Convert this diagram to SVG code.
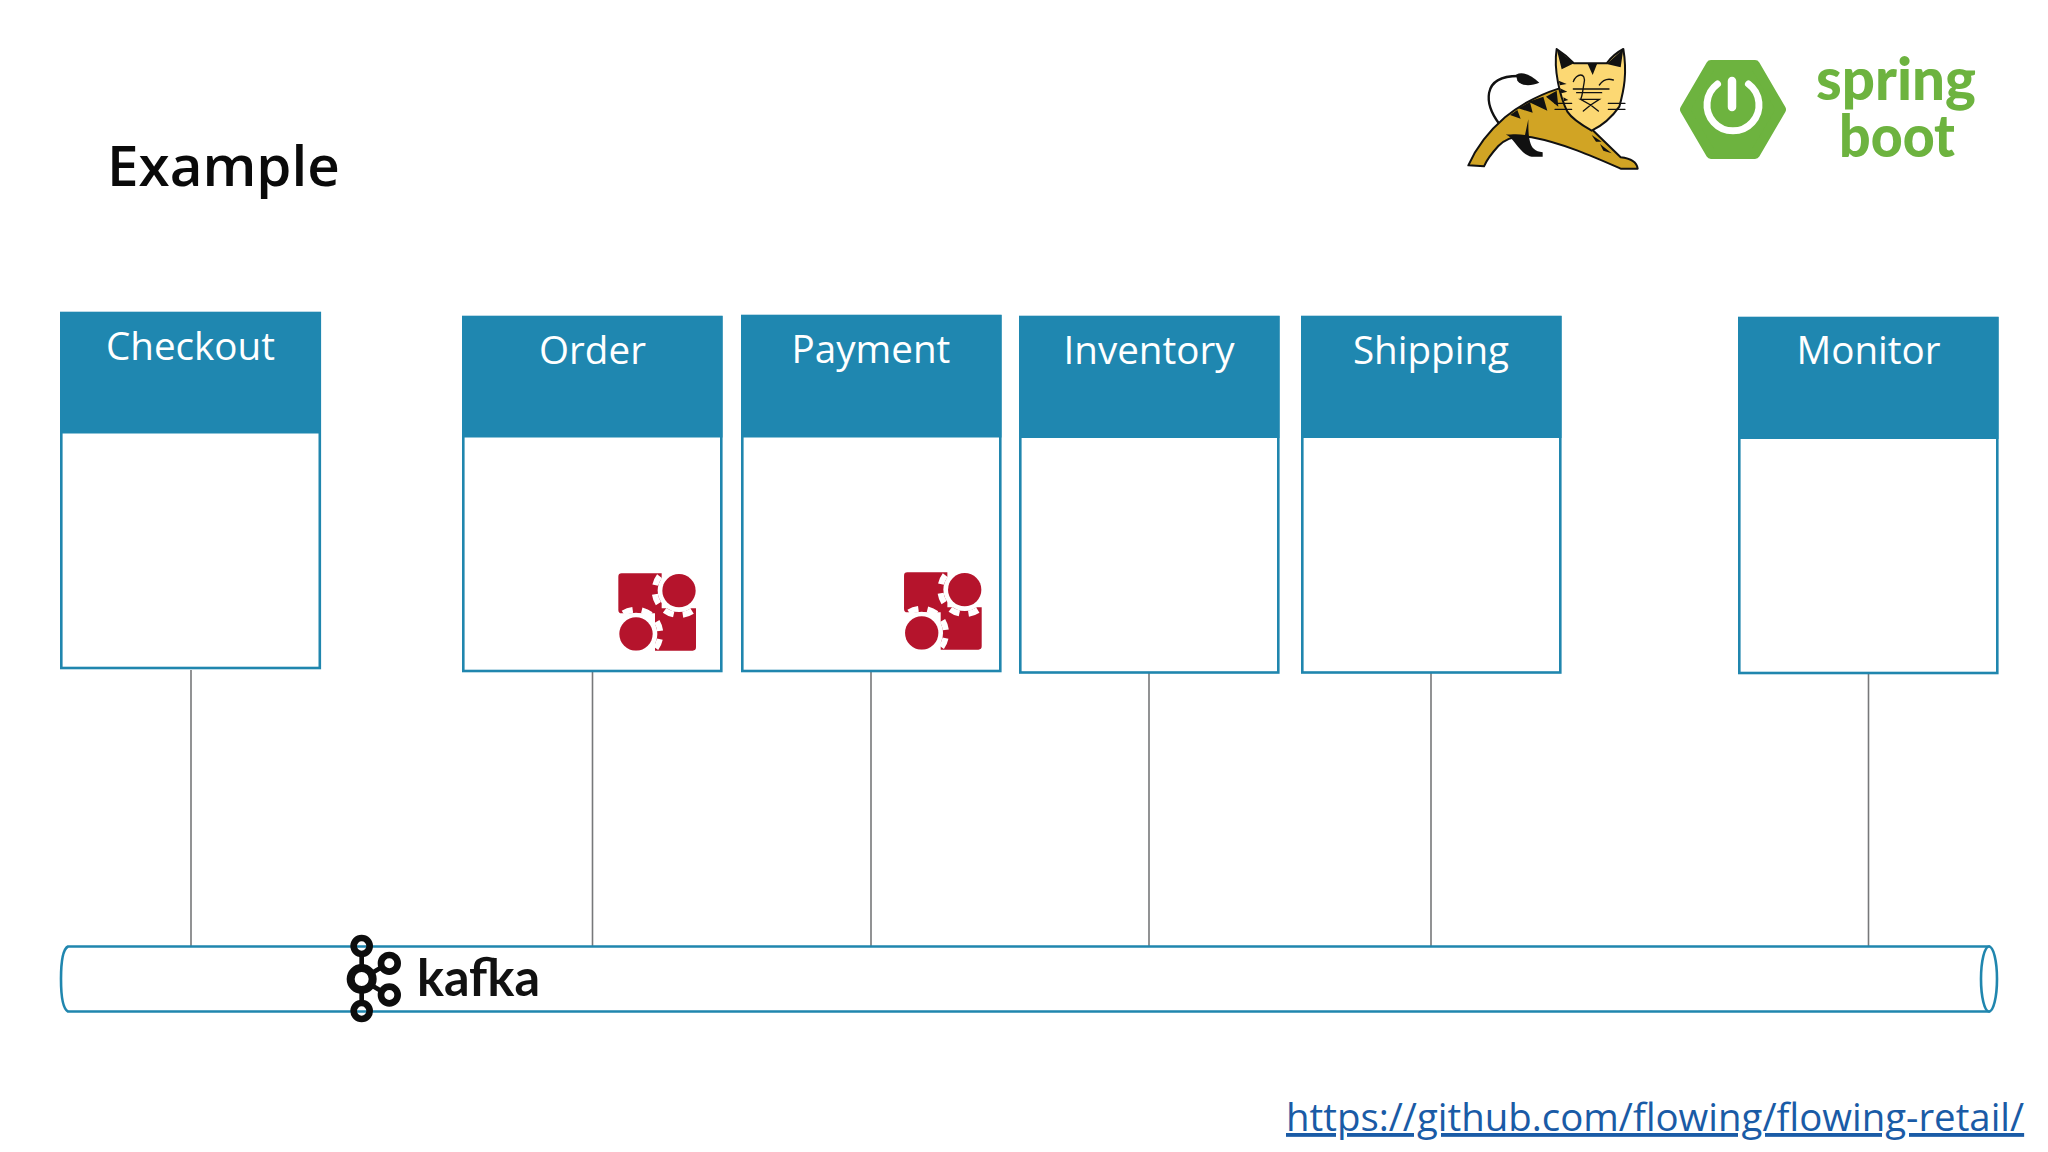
<svg xmlns="http://www.w3.org/2000/svg" width="2048" height="1152" viewBox="0 0 2048 1152">
<style>
.frame{fill:#fff;stroke:#2086ae;stroke-width:2.6}
.head{fill:#1f87b0}
.lbl{font-family:"Open Sans","Liberation Sans",sans-serif;font-weight:400;font-size:38.600px;fill:#fff;text-anchor:middle}
.conn{stroke:#77787a;stroke-width:1.6;fill:none}
.red{fill:#b5142c}
.k{fill:none;stroke:#0d0d0d}
.sp{font-family:Lato,"Open Sans",sans-serif;font-weight:900;font-size:59px;fill:#6db33f;text-anchor:middle}
.t{fill:none;stroke:#111;stroke-width:4;stroke-linecap:round}
</style>
<defs>
<g id="gear-icon">
<path class="red" d="M65 40H185V160H65Q55 160 55 150V50Q55 40 65 40ZM165 145H288V262Q288 272 278 272H165Z"/>
<circle cx="237" cy="92" r="64" fill="#fff"/>
<circle cx="237" cy="92" r="73" fill="none" stroke="#fff" stroke-width="18" stroke-dasharray="30 27.330" transform="rotate(12 237 92)"/>
<circle cx="237" cy="92" r="50" class="red"/>
<path d="M237 0H300V142H290V40H237Z" fill="#fff"/>
<circle cx="108" cy="222" r="64" fill="#fff"/>
<circle cx="108" cy="222" r="73" fill="none" stroke="#fff" stroke-width="18" stroke-dasharray="30 27.330" transform="rotate(12 108 222)"/>
<circle cx="108" cy="222" r="50" class="red"/>
<path d="M40 170V290H160V272H55V170Z" fill="#fff"/>
</g>
</defs>
<rect width="2048" height="1152" fill="#fff"/>
<text x="107" y="186" font-family="Open Sans, Liberation Sans, sans-serif" font-weight="600" font-size="56.500" fill="#0a0a0a">Example</text>

<g id="connectors">
<path class="conn" d="M191 670V947M592.500 671V947M871 671V947M1149 672V947M1431 672V947M1868.500 673V947"/>
</g>

<g id="bus">
<path class="frame" d="M68 946.500H1989V1011.500H68Q61 1008 61 979Q61 950 68 946.500Z"/>
<ellipse class="frame" cx="1989" cy="979" rx="8" ry="32.500"/>
</g>

<g id="node-checkout">
<rect class="frame" x="61.300" y="313" width="258.500" height="355"/>
<rect class="head" x="60" y="312" width="261" height="121.500"/>
<text class="lbl" x="190.500" y="360">Checkout</text>
</g>
<g id="node-order">
<rect class="frame" x="463.300" y="317" width="258" height="354"/>
<rect class="head" x="462" y="316" width="260.500" height="121.500"/>
<text class="lbl" x="592.500" y="364">Order</text>
</g>
<g id="node-payment">
<rect class="frame" x="742.300" y="316" width="258" height="355"/>
<rect class="head" x="741" y="315" width="260.500" height="122.500"/>
<text class="lbl" x="871" y="363">Payment</text>
</g>
<g id="node-inventory">
<rect class="frame" x="1020.300" y="317" width="258" height="355.500"/>
<rect class="head" x="1019" y="316" width="260.500" height="122"/>
<text class="lbl" x="1149" y="364">Inventory</text>
</g>
<g id="node-shipping">
<rect class="frame" x="1302.300" y="317" width="258" height="355.500"/>
<rect class="head" x="1301" y="316" width="260.500" height="122"/>
<text class="lbl" x="1431" y="364">Shipping</text>
</g>
<g id="node-monitor">
<rect class="frame" x="1739.300" y="318" width="258" height="355"/>
<rect class="head" x="1738" y="317" width="260.500" height="122"/>
<text class="lbl" x="1868.500" y="364">Monitor</text>
</g>

<g id="icon-order" transform="translate(600 560) scale(.33333)"><use href="#gear-icon"/></g>
<g id="icon-payment" transform="translate(885.700 559) scale(.33333)"><use href="#gear-icon"/></g>

<g id="kafka">
<g transform="translate(330 930) scale(.33333)">
<g class="k" stroke-width="20">
<circle cx="95" cy="48" r="24"/><circle cx="95" cy="147" r="33" stroke-width="24"/><circle cx="178" cy="100" r="25"/><circle cx="178" cy="195" r="25"/><circle cx="95" cy="243" r="24"/>
<path d="M95 72V110M95 184V220M127 128L155 112M127 167L155 184" stroke-width="14"/>
</g>
</g>
<text x="417" y="995.700" font-family="Lato, Open Sans, sans-serif" font-weight="700" font-size="51" fill="#111" textLength="123" lengthAdjust="spacingAndGlyphs">kafka</text>
</g>

<g id="tomcat" transform="translate(1460 40) scale(.33333)">
<path d="M118 252C75 195 60 108 175 108" fill="none" stroke="#111" stroke-width="7"/>
<path d="M168 104C190 92 215 108 238 128C215 138 185 140 172 122Z" fill="#111"/>
<path d="M25 376C50 320 85 275 135 232C180 195 235 165 298 145L400 272L482 352C510 355 530 365 533 386H482C400 350 310 310 215 292C170 284 140 292 115 318C95 340 80 360 72 379Z" fill="#d1a424" stroke="#111" stroke-width="6" stroke-linejoin="round"/>
<path d="M116 258L136 283C165 295 180 345 215 350H248V337C225 333 215 325 210 305C205 285 205 265 205 238L195 285C170 280 140 285 136 283Z" fill="#111"/>
<path d="M205 185L262 212L250 170ZM175 205L218 218L210 186ZM150 225L182 236L172 210ZM258 170L295 200L290 152ZM395 285L425 305L408 305ZM420 312L455 340L430 332Z" fill="#111"/>
<path d="M290 27C310 40 328 55 342 70H440C455 50 475 35 490 27C502 100 492 150 478 200C450 240 420 260 395 272C365 255 335 235 322 215C300 170 280 90 290 27Z" fill="#fcd873" stroke="#111" stroke-width="6" stroke-linejoin="round"/>
<path d="M290 27L342 70L305 88ZM490 27L440 72L482 82ZM382 70L398 105L412 70ZM296 122L320 132L300 136ZM300 145L322 155L304 160ZM310 172L325 180L312 184Z" fill="#111"/>
<path class="t" d="M340 147H447M350 158H425M285 190H335M285 208H335M445 190H495M445 208H495M362 178H418L392 195ZM392 195L370 213M392 195L415 213M340 125C348 100 380 95 372 130C368 150 368 165 362 178M418 135C430 118 445 115 460 120"/>
</g>

<g id="spring-boot">
<path d="M1711 65H1755L1781 109.500L1755 154H1711L1685 109.500Z" fill="#6db33f" stroke="#6db33f" stroke-width="10" stroke-linejoin="round"/>
<path d="M1717.500 84A26 26 0 1 0 1748.500 84" fill="none" stroke="#fff" stroke-width="7" stroke-linecap="round"/>
<path d="M1732 81V107" stroke="#fff" stroke-width="8.500" stroke-linecap="round"/>
<text class="sp" x="1896" y="100" textLength="160" lengthAdjust="spacingAndGlyphs">spring</text>
<text class="sp" x="1897" y="157" textLength="116" lengthAdjust="spacingAndGlyphs">boot</text>
</g>

<text x="1286" y="1131" font-family="Open Sans, Liberation Sans, sans-serif" font-size="38.400" fill="#1a5ba6" text-decoration="underline">https://github.com/flowing/flowing-retail/</text>
</svg>
